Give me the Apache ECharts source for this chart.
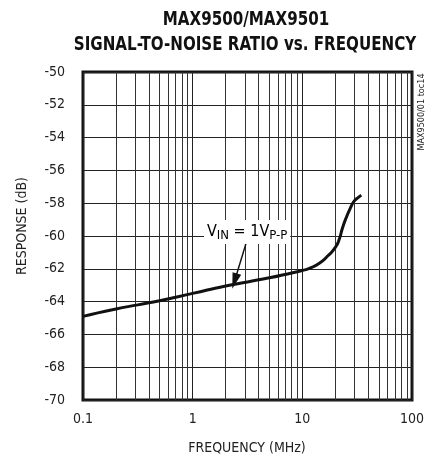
<!DOCTYPE html>
<html>
<head>
<meta charset="utf-8">
<script src="https://cdn.jsdelivr.net/npm/echarts@6/dist/echarts.min.js"></script>
<style>
    html, body { margin: 0; padding: 0; background: #fff; }
    #chart { width: 432px; height: 461px; }
</style>
</head>
<body>
<div id="chart"></div>
<script>
// 曲线数据 (MHz, dB)
const freq = [0.1, 0.2, 0.5, 1, 2, 5, 10, 11.6, 14.3, 17, 20, 21.7, 23.2, 25, 27.8, 29.7, 32, 34.5];
const snr = [-64.9, -64.45, -63.95, -63.5, -63.05, -62.55, -62.1, -61.97, -61.66, -61.22, -60.7, -60.2, -59.53, -58.92, -58.21, -57.87, -57.68, -57.52];
// 对数坐标的次网格线
const minorFreq = [0.2, 0.3, 0.4, 0.5, 0.6, 0.7, 0.8, 0.9, 2, 3, 4, 5, 6, 7, 8, 9, 20, 30, 40, 50, 60, 70, 80, 90];
const xTicks = [0.1, 1, 10, 100];
// 箭头: 起点 -> 终点
const arrowFrom = [3.18, -60.1];
const arrowTo = [2.41, -62.75];

const font = '"Liberation Sans Narrow", "DejaVu Sans Condensed", Arial, sans-serif';

const myChart = echarts.init(document.getElementById('chart'), null, { renderer: 'canvas' });

const option = {
    animation: false,
    grid: {
        left: 83,
        right: 20,
        top: 72,
        bottom: 61,
        containLabel: false,
        outerBoundsMode: 'none',
        show: true,
        borderColor: '#111',
        borderWidth: 3,
    },
    xAxis: {
        type: 'log',
        logBase: 10,
        min: 0.1,
        max: 100,
        axisLine: { show: false },
        axisTick: { show: false },
        axisLabel: {
            margin: 12,
            fontFamily: font,
            fontSize: 14,
            color: '#222',
            formatter: v => {
                const hit = xTicks.find(t => Math.abs(t - v) / t < 1e-6);
                return hit === undefined ? '' : String(hit);
            },
        },
        splitLine: { lineStyle: { color: '#222', width: 1 } },
    },
    yAxis: {
        type: 'value',
        min: -70,
        max: -50,
        interval: 2,
        axisLine: { show: false },
        axisTick: { show: false },
        axisLabel: {
            margin: 18,
            fontFamily: font,
            fontSize: 14,
            color: '#222',
        },
        splitLine: { lineStyle: { color: '#222', width: 1 } },
    },
    graphic: [
        {
            type: 'text',
            x: 246,
            y: 20,
            scaleX: 0.84,
            style: {
                text: 'MAX9500/MAX9501',
                fontFamily: font,
                fontWeight: 'bold',
                fontSize: 20,
                fill: '#111',
                align: 'center',
                verticalAlign: 'middle',
            },
        },
        {
            type: 'text',
            x: 245,
            y: 45,
            scaleX: 0.84,
            style: {
                text: 'SIGNAL-TO-NOISE RATIO vs. FREQUENCY',
                fontFamily: font,
                fontWeight: 'bold',
                fontSize: 20,
                fill: '#111',
                align: 'center',
                verticalAlign: 'middle',
            },
        },
        {
            type: 'text',
            x: 22,
            y: 226,
            rotation: Math.PI / 2,
            style: {
                text: 'RESPONSE (dB)',
                fontFamily: font,
                fontSize: 14,
                fill: '#222',
                align: 'center',
                verticalAlign: 'middle',
            },
        },
        {
            type: 'text',
            x: 247,
            y: 448,
            style: {
                text: 'FREQUENCY (MHz)',
                fontFamily: font,
                fontSize: 14,
                fill: '#222',
                align: 'center',
                verticalAlign: 'middle',
            },
        },
        {
            type: 'text',
            x: 422,
            y: 112,
            rotation: Math.PI / 2,
            style: {
                text: 'MAX9500/01 toc14',
                fontFamily: font,
                fontSize: 9,
                fill: '#222',
                align: 'center',
                verticalAlign: 'middle',
            },
        },
        {
            type: 'text',
            x: 204,
            y: 220,
            z: 10,
            style: {
                text: '{n|V}{s|IN}{n| = 1V}{s|P-P}',
                backgroundColor: '#fff',
                padding: [2, 3, 2, 3],
                rich: {
                    n: { fontFamily: font, fontSize: 16, color: '#222', lineHeight: 20, verticalAlign: 'middle' },
                    s: { fontFamily: font, fontSize: 13, color: '#222', lineHeight: 20, verticalAlign: 'bottom', padding: [6, 0, 0, 0] },
                },
            },
        },
    ],
    series: [
        {
            type: 'line',
            data: freq.map((f, i) => [f, snr[i]]),
            smooth: 0.6,
            symbol: 'none',
            lineStyle: { color: '#111', width: 3 },
            z: 5,
            markLine: {
                silent: true,
                symbol: 'none',
                label: { show: false },
                lineStyle: { color: '#333', width: 1, type: 'solid' },
                data: minorFreq.map(v => ({ xAxis: v })),
                z: 1,
            },
        },
        {
            type: 'line',
            data: [],
            markLine: {
                silent: true,
                symbol: ['none', 'triangle'],
                symbolSize: [9, 16],
                label: { show: false },
                lineStyle: { color: '#111', width: 1.5, type: 'solid' },
                data: [[{ coord: arrowFrom }, { coord: arrowTo }]],
            },
            z: 6,
        },
    ],
};

myChart.setOption(option);
window.addEventListener('resize', () => {
    myChart.resize();
});
</script>
</body>
</html>
